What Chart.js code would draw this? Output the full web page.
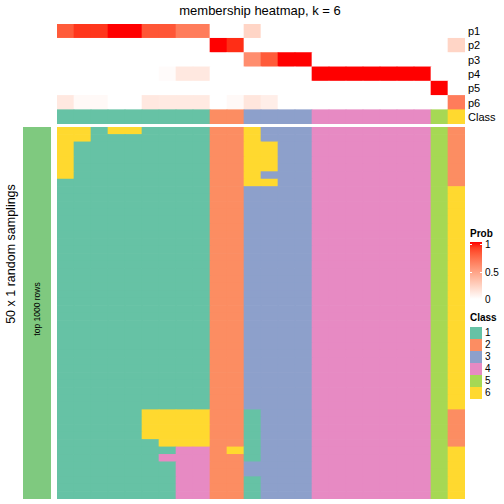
<!DOCTYPE html>
<html>
<head>
<meta charset="utf-8">
<script src="https://cdn.jsdelivr.net/npm/chart.js@4.4.1/dist/chart.umd.min.js"></script>
<style>
  body { margin: 0; width: 504px; height: 504px; background: #fff; position: relative; overflow: hidden;
         font-family: "Liberation Sans", Arial, sans-serif; color: #000; }
  .box { position: absolute; }
  .txt { position: absolute; white-space: nowrap; line-height: 1; }
  .rot { transform: translate(-50%, -50%) rotate(-90deg); }
</style>
</head>
<body>

<div class="txt" style="left:260px; top:10px; font-size:13px; transform:translate(-50%,-50%)">membership heatmap, k = 6</div>

<div class="box" style="left:57px; top:24px; width:408px; height:100px"><canvas id="topChart" width="408" height="100"></canvas></div>
<div class="box" style="left:57px; top:127px; width:408px; height:372px"><canvas id="mainChart" width="408" height="372"></canvas></div>

<div class="box" style="left:23px; top:127px; width:28px; height:372px; background:#7FC97F"></div>
<div class="txt rot" style="left:37px; top:309px; font-size:8.5px">top 1000 rows</div>
<div class="txt rot" style="left:11px; top:254px; font-size:12.5px">50 x 1 random samplings</div>

<div id="rowLabels"></div>
<div id="legend"></div>

<script>
// columns (samples) and top annotation rows
const columns = ['c1','c2','c3','c4','c5','c6','c7','c8','c9','c10','c11','c12',
                 'c13','c14','c15','c16','c17','c18','c19','c20','c21','c22','c23','c24'];

const p1 = [0.80,0.92,0.92,1,1,0.82,0.82,0.66,0.66,0,0,0.22,0,0,0,0,0,0,0,0,0,0,0,0];
const p2 = [0,0,0,0,0,0,0,0,0,1,0.94,0,0,0,0,0,0,0,0,0,0,0,0,0.22];
const p3 = [0,0,0,0,0,0,0,0,0,0,0,0.58,0.8,1,1,0,0,0,0,0,0,0,0,0];
const p4 = [0,0,0,0,0,0,0.02,0.12,0.12,0,0,0,0,0,0,1,1,1,1,1,1,1,0,0];
const p5 = [0,0,0,0,0,0,0,0,0,0,0,0,0,0,0,0,0,0,0,0,0,0,1,0];
const p6 = [0.12,0.03,0.03,0,0,0.12,0.11,0.11,0.11,0,0.03,0.13,0.09,0,0,0,0,0,0,0,0,0,0,0.66];
const classOf = [1,1,1,1,1,1,1,1,1,2,2,3,3,3,3,4,4,4,4,4,4,4,5,6];

// 50 samplings, top to bottom: one class digit per column
const samplings = [
  '661661111226333444444452',
  '661111111226333444444452',
  '611111111226633444444452',
  '611111111226633444444452',
  '611111111226633444444452',
  '611111111226633444444452',
  '611111111226333444444452',
  '111111111226633444444452',
  '111111111223333444444456',
  '111111111223333444444456',
  '111111111223333444444456',
  '111111111223333444444456',
  '111111111223333444444456',
  '111111111223333444444456',
  '111111111223333444444456',
  '111111111223333444444456',
  '111111111223333444444456',
  '111111111223333444444456',
  '111111111223333444444456',
  '111111111223333444444456',
  '111111111223333444444456',
  '111111111223333444444456',
  '111111111223333444444456',
  '111111111223333444444456',
  '111111111223333444444456',
  '111111111223333444444456',
  '111111111223333444444456',
  '111111111223333444444456',
  '111111111223333444444456',
  '111111111223333444444456',
  '111111111223333444444456',
  '111111111223333444444456',
  '111111111223333444444456',
  '111111111223333444444456',
  '111111111223333444444456',
  '111111111223333444444456',
  '111111111223333444444456',
  '111111111223333444444456',
  '111116666221333444444452',
  '111116666221333444444452',
  '111116666221333444444452',
  '111116666221333444444452',
  '111111666221333444444452',
  '111111144261333444444456',
  '111111444221333444444456',
  '111111144223333444444456',
  '111111144223333444444456',
  '111111144221333444444456',
  '111111144221333444444456',
  '111111144221333444444456'
];
const classLabels = ['1','2','3','4','5','6'];

const classColors = { 1: '#66C2A5', 2: '#FC8D62', 3: '#8DA0CB', 4: '#E78AC3', 5: '#A6D854', 6: '#FFD92F' };

// white -> red in LAB space
function toLab(hex) {
  const v = [1, 3, 5].map(i => parseInt(hex.substr(i, 2), 16) / 255)
    .map(c => c <= 0.04045 ? c / 12.92 : Math.pow((c + 0.055) / 1.055, 2.4));
  const x = (0.4124 * v[0] + 0.3576 * v[1] + 0.1805 * v[2]) / 0.95047;
  const y = 0.2126 * v[0] + 0.7152 * v[1] + 0.0722 * v[2];
  const z = (0.0193 * v[0] + 0.1192 * v[1] + 0.9505 * v[2]) / 1.08883;
  const f = t => t > 0.008856 ? Math.cbrt(t) : 7.787 * t + 16 / 116;
  return [116 * f(y) - 16, 500 * (f(x) - f(y)), 200 * (f(y) - f(z))];
}
function fromLab(L, a, b) {
  const fy = (L + 16) / 116, fx = fy + a / 500, fz = fy - b / 200;
  const g = t => t > 0.206893 ? t * t * t : (t - 16 / 116) / 7.787;
  const x = g(fx) * 0.95047, y = g(fy), z = g(fz) * 1.08883;
  const rgb = [
    3.2406 * x - 1.5372 * y - 0.4986 * z,
    -0.9689 * x + 1.8758 * y + 0.0415 * z,
    0.0557 * x - 0.2040 * y + 1.0570 * z
  ].map(c => c <= 0.0031308 ? 12.92 * c : 1.055 * Math.pow(c, 1 / 2.4) - 0.055)
   .map(c => Math.round(Math.min(1, Math.max(0, c)) * 255));
  return 'rgb(' + rgb.join(',') + ')';
}
const labWhite = toLab('#FFFFFF'), labRed = toLab('#FF0000');
const probColor = t => fromLab(...labWhite.map((w, i) => w + (labRed[i] - w) * t));

const baseOptions = {
  responsive: false,
  animation: false,
  layout: { padding: 0 },
  plugins: { legend: { display: false }, tooltip: { enabled: false } },
  datasets: { bar: { barPercentage: 1, categoryPercentage: 1, borderWidth: 0 } },
  events: []
};

// top annotation: p1..p6 then Class (stacked bottom-up, so reversed)
const probRows = [p1, p2, p3, p4, p5, p6];
const topRows = probRows.map(r => r.map(probColor)).concat([classOf.map(c => classColors[c])]);
new Chart(document.getElementById('topChart'), {
  type: 'bar',
  data: {
    labels: columns,
    datasets: topRows.slice().reverse().map(cols => ({ data: columns.map(() => 1), backgroundColor: cols }))
  },
  options: {
    ...baseOptions,
    scales: {
      x: { stacked: true, display: false },
      y: { stacked: true, display: false, min: 0, max: topRows.length }
    }
  }
});

new Chart(document.getElementById('mainChart'), {
  type: 'bar',
  data: {
    labels: columns,
    datasets: samplings.slice().reverse().map(row => ({
      data: columns.map(() => 1),
      backgroundColor: row.split('').map(c => classColors[c])
    }))
  },
  options: {
    ...baseOptions,
    scales: {
      x: { stacked: true, display: false },
      y: { stacked: true, display: false, min: 0, max: samplings.length }
    }
  }
});

// row labels on the right of the top annotation
const rowNames = ['p1', 'p2', 'p3', 'p4', 'p5', 'p6', 'Class'];
let html = '';
rowNames.forEach((n, i) => {
  html += '<div class="txt" style="left:468px; top:' + (24 + (i + 0.5) * 100 / 7) +
    'px; font-size:11px; transform:translateY(-50%)">' + n + '</div>';
});
document.getElementById('rowLabels').innerHTML = html;

// legends
const stops = [];
for (let i = 0; i <= 10; i++) stops.push(probColor(1 - i / 10) + ' ' + (i * 10) + '%');
let lg = '<div class="txt" style="left:470px; top:234px; font-size:10px; font-weight:bold; transform:translateY(-50%)">Prob</div>';
lg += '<div class="box" style="left:470px; top:242px; width:12px; height:57px; background:linear-gradient(' + stops.join(',') + ')"></div>';
[[1, 244.5], [0.5, 272]].forEach(([v, y]) => {
  lg += '<div class="box" style="left:470px; top:' + (y - 0.5) + 'px; width:2px; height:1px; background:#fff"></div>';
  lg += '<div class="box" style="left:480px; top:' + (y - 0.5) + 'px; width:2px; height:1px; background:#fff"></div>';
});
[['1', 245], ['0.5', 273], ['0', 300]].forEach(([t, y]) => {
  lg += '<div class="txt" style="left:485px; top:' + y + 'px; font-size:10px; transform:translateY(-50%)">' + t + '</div>';
});
lg += '<div class="txt" style="left:470px; top:318px; font-size:10px; font-weight:bold; transform:translateY(-50%)">Class</div>';
classLabels.forEach((c, i) => {
  const y = 327 + i * 12;
  lg += '<div class="box" style="left:470px; top:' + y + 'px; width:12px; height:12px; background:' + classColors[c] + '"></div>';
  lg += '<div class="txt" style="left:485px; top:' + (y + 6) + 'px; font-size:10px; transform:translateY(-50%)">' + c + '</div>';
});
document.getElementById('legend').innerHTML = lg;
</script>
</body>
</html>
